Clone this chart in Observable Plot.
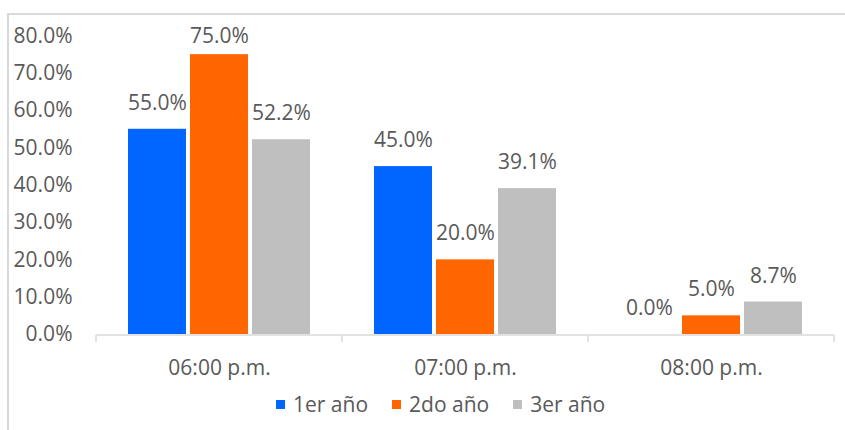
<!DOCTYPE html>
<html><head><meta charset="utf-8">
<script src="https://cdn.jsdelivr.net/npm/d3@7"></script>
<script src="https://cdn.jsdelivr.net/npm/@observablehq/plot@0.6"></script>
<style>
body{margin:0;background:#fff;font-family:"Open Sans",sans-serif;}
#wrap{position:relative;width:845px;height:430px;overflow:hidden;background:#fff;}
#border{position:absolute;left:7px;top:13px;width:900px;height:500px;border-left:2px solid #d9d9d9;border-top:2px solid #d9d9d9;}
#chart{position:absolute;left:0;top:0;}
#legend{position:absolute;left:276px;top:390px;display:flex;align-items:center;font-size:21px;color:#595959;white-space:nowrap;}
.item{display:flex;align-items:center;margin-right:24px}
.sw{width:9px;height:9px;margin-right:8px}
</style></head>
<body><div id="wrap"><div id="border"></div><div id="chart"></div><div id="legend"></div></div>
<script>
const categories = ["06:00 p.m.", "07:00 p.m.", "08:00 p.m."];
const series = ["1er año", "2do año", "3er año"];
const values1 = [55.0, 45.0, 0.0];
const values2 = [75.0, 20.0, 5.0];
const values3 = [52.2, 39.1, 8.7];
const colors = ["#0066FF", "#FF6600", "#BFBFBF"];
const yTicks = [0, 10, 20, 30, 40, 50, 60, 70, 80];

const seriesValues = [values1, values2, values3];
const rows = [];
categories.forEach((c, i) => series.forEach((s, j) => rows.push({cat: c, series: s, value: seriesValues[j][i]})));

const fmt = d => d.toFixed(1) + "%";
const yMax = 80;
const labelOffset = 7; // label sits above the bar, kept inside the plot area

const plot = Plot.plot({
  width: 845, height: 385,
  marginLeft: 96, marginRight: 11, marginTop: 35.5, marginBottom: 51,
  style: {fontFamily: "'Open Sans', sans-serif", fontSize: "21px", color: "#595959", background: "transparent", overflow: "visible"},
  fx: {domain: categories, padding: 0, label: null, axis: "bottom", tickSize: 0, tickPadding: 26},
  x: {domain: series, paddingInner: 0.0645, paddingOuter: 0.516, axis: null},
  y: {domain: [0, yMax], ticks: yTicks, tickFormat: fmt, tickSize: 0, tickPadding: 24, label: null},
  color: {domain: series, range: colors},
  marks: [
    Plot.barY(rows, {fx: "cat", x: "series", y: "value", fill: "series"}),
    Plot.text(rows, {fx: "cat", x: "series", y: d => Math.min(d.value + labelOffset, yMax), text: d => fmt(d.value), fill: "#595959"})
  ]
});
document.getElementById("chart").appendChild(plot);

// category axis line with boundary ticks (Excel style), from Plot's own scales
const fx = plot.scale("fx");
const y = plot.scale("y");
const y0 = y.apply(0) + 1;
const svg = d3.select(plot);
const g = svg.append("g").attr("stroke", "#d9d9d9").attr("stroke-width", 1.5);
g.append("line").attr("x1", fx.range[0]).attr("x2", fx.range[1]).attr("y1", y0).attr("y2", y0);
const bounds = categories.map(c => fx.apply(c)).concat([fx.apply(categories[categories.length - 1]) + fx.bandwidth]);
bounds.forEach(b => g.append("line").attr("x1", b).attr("x2", b).attr("y1", y0).attr("y2", y0 + 7));

const legend = document.getElementById("legend");
series.forEach((s, i) => {
  const it = document.createElement("div"); it.className = "item";
  const sw = document.createElement("div"); sw.className = "sw"; sw.style.background = colors[i];
  const tx = document.createElement("span"); tx.textContent = s;
  it.appendChild(sw); it.appendChild(tx); legend.appendChild(it);
});
</script>
</body></html>
